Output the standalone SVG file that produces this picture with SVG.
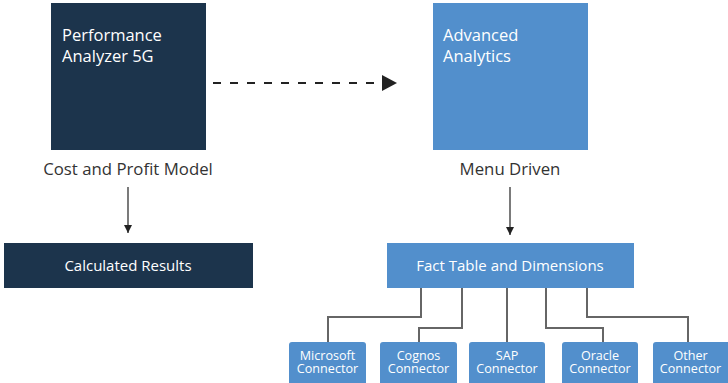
<svg xmlns="http://www.w3.org/2000/svg" width="728" height="383" viewBox="0 0 728 383">
<defs>
<style>
.t{font-family:"Open Sans","Noto Sans","Liberation Sans",sans-serif;}
.w{fill:#ffffff;}
.dk{fill:#1c344c;}
.bl{fill:#528fcc;}
.lbl{fill:#333333;font-size:16.8px;}
.ttl{font-size:16.5px;}
.mid{font-size:15px;}
.sm{font-size:12.6px;}
.ln{fill:none;stroke:#666666;stroke-width:2;}
.ar{fill:none;stroke:#222222;stroke-width:1.2;}
</style>
<marker id="ah" markerWidth="8" markerHeight="8" refX="8" refY="4" orient="auto" markerUnits="userSpaceOnUse">
<path d="M0,0 L8,4 L0,8 Z" fill="#222222"/>
</marker>
</defs>
<rect width="728" height="383" fill="#ffffff"/>
<g id="pa5g">
<rect class="dk" x="51" y="3" width="155" height="147"/>
<text class="t w ttl" x="62" y="41">Performance</text>
<text class="t w ttl" x="62" y="62">Analyzer 5G</text>
</g>
<g id="aa">
<rect class="bl" x="433" y="3" width="155" height="147"/>
<text class="t w ttl" x="443" y="41">Advanced</text>
<text class="t w ttl" x="443" y="62">Analytics</text>
</g>
<g id="cpm">
<text class="t lbl" x="128" y="175" text-anchor="middle">Cost and Profit Model</text>
</g>
<g id="md">
<text class="t lbl" x="510" y="175" text-anchor="middle">Menu Driven</text>
</g>
<g id="calc">
<rect class="dk" x="4" y="243" width="249" height="45"/>
<text class="t w mid" x="128" y="271" text-anchor="middle">Calculated Results</text>
</g>
<g id="fact">
<rect class="bl" x="387" y="243" width="247" height="45"/>
<text class="t w mid" x="510" y="271" text-anchor="middle">Fact Table and Dimensions</text>
</g>
<g id="ms">
<rect class="bl" x="289" y="342" width="77" height="48" rx="3"/>
<text class="t w sm" x="327.5" y="359.5" text-anchor="middle">Microsoft</text>
<text class="t w sm" x="327.5" y="373" text-anchor="middle">Connector</text>
</g>
<g id="cognos">
<rect class="bl" x="380" y="342" width="77" height="48" rx="3"/>
<text class="t w sm" x="418.5" y="359.5" text-anchor="middle">Cognos</text>
<text class="t w sm" x="418.5" y="373" text-anchor="middle">Connector</text>
</g>
<g id="sap">
<rect class="bl" x="469" y="342" width="76" height="48" rx="3"/>
<text class="t w sm" x="507" y="359.5" text-anchor="middle">SAP</text>
<text class="t w sm" x="507" y="373" text-anchor="middle">Connector</text>
</g>
<g id="oracle">
<rect class="bl" x="562" y="342" width="76" height="48" rx="3"/>
<text class="t w sm" x="600" y="359.5" text-anchor="middle">Oracle</text>
<text class="t w sm" x="600" y="373" text-anchor="middle">Connector</text>
</g>
<g id="other">
<rect class="bl" x="653" y="342" width="78" height="48" rx="3"/>
<text class="t w sm" x="690.5" y="359.5" text-anchor="middle">Other</text>
<text class="t w sm" x="690.5" y="373" text-anchor="middle">Connector</text>
</g>
<g id="connectors">
<line x1="213" y1="83" x2="375" y2="83" stroke="#222222" stroke-width="2" stroke-dasharray="8,9"/>
<path d="M382,75 L397,83 L382,91 Z" fill="#222222"/>
<line class="ar" x1="128" y1="187" x2="128" y2="233" marker-end="url(#ah)"/>
<line class="ar" x1="510" y1="187" x2="510" y2="235" marker-end="url(#ah)"/>
<path class="ln" d="M421,288 V317 H328 V342"/>
<path class="ln" d="M462,288 V328 H419 V342"/>
<path class="ln" d="M507,288 V342"/>
<path class="ln" d="M546,288 V328 H603 V342"/>
<path class="ln" d="M587,288 V317 H688 V342"/>
</g>
</svg>
